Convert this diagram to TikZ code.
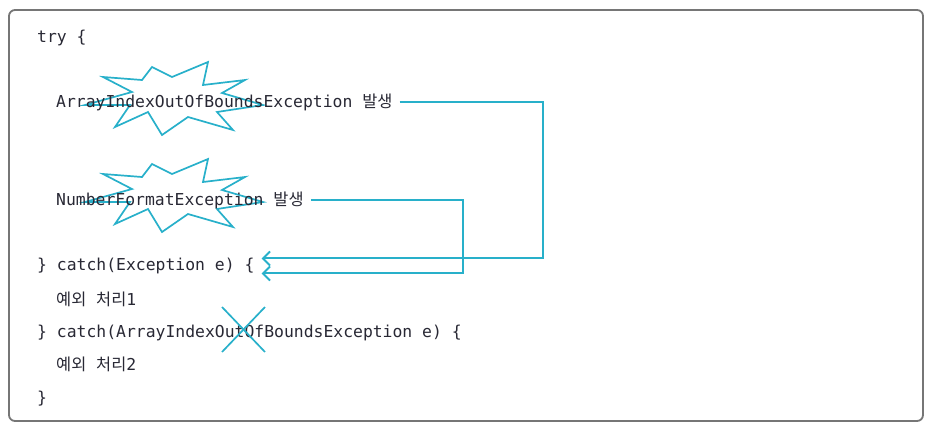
\documentclass[tikz,border=0pt]{standalone}
\usepackage{fontspec}
\usepackage{tikz}
\usetikzlibrary{arrows.meta,positioning}
\setmonofont{DejaVu Sans Mono}
\newfontfamily\kofont{Noto Sans CJK KR}
\newcommand{\ko}[1]{{\kofont #1}}
\definecolor{flowteal}{RGB}{40,176,202}
\definecolor{codegray}{RGB}{40,40,52}
\definecolor{framegray}{RGB}{118,118,118}
% irregular starburst around a point
\newcommand{\burst}[1]{%
  \draw[burst,shift={#1}] (-23,-33) -- (-3,-23) -- (33,-38) -- (28,-15) -- (70,-20) -- (47,-7)
    -- (88,5) -- (42,12) -- (58,30) -- (13,17) -- (-13,35) -- (-27,12) -- (-60,27)
    -- (-45,5) -- (-90,5) -- (-43,-8) -- (-72,-23) -- (-33,-20) -- cycle;}

\begin{document}
\begin{tikzpicture}[
    x=1pt, y=-1pt,
    >={Straight Barb[length=7pt,width=14pt]},
    code/.style={
        anchor=base west,
        inner sep=0pt,
        text=codegray,
        font=\ttfamily\fontsize{16.4pt}{20pt}\selectfont
    },
    flow/.style={
        draw=flowteal,
        line width=2pt,
        ->
    },
    burst/.style={
        draw=flowteal,
        line width=1.7pt,
        line join=miter
    },
    strike/.style={
        draw=flowteal,
        line width=1.7pt
    },
    frame/.style={
        draw=framegray,
        line width=1.8pt,
        rounded corners=6pt
    }
]
\useasboundingbox (0,0) rectangle (940,429);

% Frame
\draw[frame] (9,10) rectangle (923,421);

% Starbursts
\burst{(175,100)}
\burst{(175,197)}

% Code lines
\node[code] (try) at (37,42) {try \{};
\node[code] (aioobe) at (56,107) {ArrayIndexOutOfBoundsException \ko{발생}};
\node[code] (nfe) at (56,205) {NumberFormatException \ko{발생}};
\node[code] (catchone) at (37,270) {\} catch(Exception e) \{};
\node[code] (handleone) at (56,305) {\ko{예외} \ko{처리}1};
\node[code] (catchtwo) at (37,337) {\} catch(ArrayIndexOutOfBoundsException e) \{};
\node[code] (handletwo) at (56,370) {\ko{예외} \ko{처리}2};
\node[code] (close) at (37,403) {\}};

% Jumps to the first catch
\draw[flow] ([xshift=7pt]aioobe.east) -- ++(143,0) |- ([xshift=7pt,yshift=7pt]catchone.east);
\draw[flow] ([xshift=7pt]nfe.east) -- ++(152,0) |- ([xshift=7pt,yshift=-8pt]catchone.east);

% Unreachable catch
\draw[strike] (222,307) -- (265,352);
\draw[strike] (265,307) -- (222,352);

\end{tikzpicture}
\end{document}
